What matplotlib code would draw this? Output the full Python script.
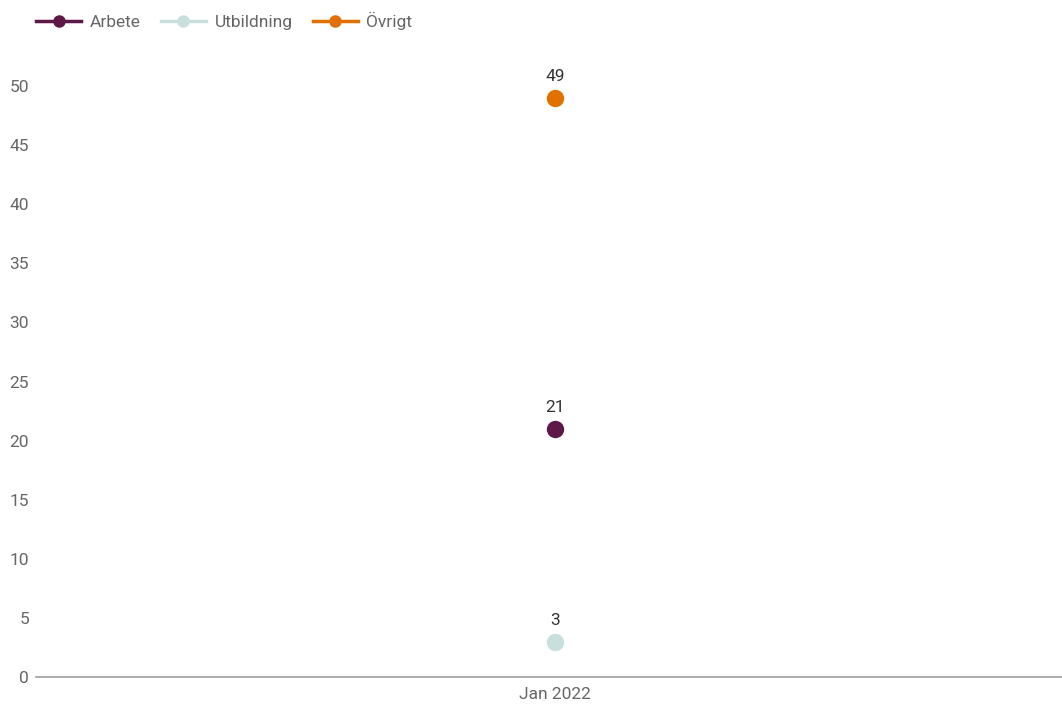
import matplotlib.pyplot as plt
from matplotlib.lines import Line2D

plt.rcParams['font.family'] = ['Roboto', 'DejaVu Sans']

categories = ["Jan 2022"]
series_names = ["Arbete", "Utbildning", "Övrigt"]
series_values = [[21], [3], [49]]
colors = ["#5e1848", "#c8dfdd", "#e07000"]

y_ticks = [0, 5, 10, 15, 20, 25, 30, 35, 40, 45, 50]

fig = plt.figure(figsize=(10.62, 7.04), dpi=100)
W, H = 1062, 704
ax = fig.add_axes([36 / W, 1 - 677 / H, 1 - 36 / W, (677 - 86) / H])

x = list(range(len(categories)))
for name, vals, c in zip(series_names, series_values, colors):
    ax.plot(x, vals, color=c, lw=2.5, marker="o", markersize=11.5, label=name, clip_on=False)
    for xi, v in zip(x, vals):
        ax.annotate(str(v), (xi, v), xytext=(0, 10), textcoords="offset points",
                    ha="center", va="bottom", fontsize=12.5, color="#333333")

ax.set_xlim(-0.506, 0.494)
ax.set_ylim(0, 50)
ax.set_yticks(y_ticks)
ax.set_xticks(x)
ax.set_xticklabels(categories)
for s in ["top", "right", "left"]:
    ax.spines[s].set_visible(False)
ax.spines["bottom"].set_color("#9e9e9e")
ax.spines["bottom"].set_linewidth(1.2)
ax.tick_params(axis="y", length=0, pad=5, labelsize=12.5, labelcolor="#666666")
ax.tick_params(axis="x", length=0, pad=7, labelsize=12.5, labelcolor="#666666")

handles = [Line2D([], [], color=c, lw=2.5, marker="o", markersize=8) for c in colors]
fig.legend(handles, series_names, loc="upper left", bbox_to_anchor=(29 / W, 1 - 5 / H),
           ncol=3, frameon=False, fontsize=12.5, labelcolor="#666666",
           handlelength=2.6, handletextpad=0.5, columnspacing=1.15, borderaxespad=0)

fig.savefig("out.png", dpi=100)
